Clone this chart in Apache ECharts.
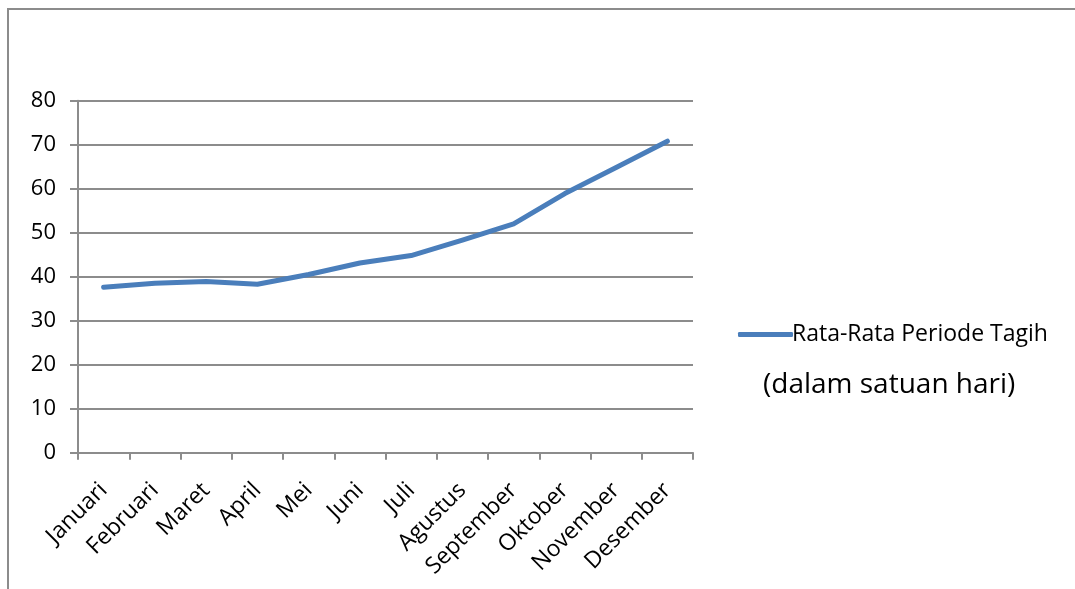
<!DOCTYPE html>
<html>
<head>
<meta charset="utf-8">
<script src="https://cdn.jsdelivr.net/npm/echarts@6/dist/echarts.min.js"></script>
<style>
  html, body { margin: 0; padding: 0; background: #fff; }
  #chart { width: 1075px; height: 589px; }
</style>
</head>
<body>
<div id="chart"></div>
<script>
// Bulan dalam setahun
const months = ['Januari', 'Februari', 'Maret', 'April', 'Mei', 'Juni', 'Juli',
  'Agustus', 'September', 'Oktober', 'November', 'Desember'];
// Rata-rata periode tagih per bulan (hari)
const avgCollection = [37.6, 38.5, 38.9, 38.3, 40.5, 43.1, 44.8, 48.3, 52.0, 58.9, 64.8, 70.8];
const seriesName = 'Rata-Rata Periode Tagih';
const unitNote = '(dalam satuan hari)';
const yMin = 0, yMax = 80, yStep = 10;

const FONT = 'Open Sans';
const GREY = '#8c8c8c';
const BLUE = '#4a7ebb';

const chart = echarts.init(document.getElementById('chart'), null, { renderer: 'canvas' });
chart.setOption({
  animation: false,
  textStyle: { fontFamily: FONT },
  grid: { left: 78, right: 382, top: 100.7, bottom: 136.3, containLabel: false },
  xAxis: {
    type: 'category',
    data: months,
    boundaryGap: true,
    axisLine: { lineStyle: { color: GREY, width: 2 } },
    axisTick: { show: true, length: 7, lineStyle: { color: GREY, width: 2 } },
    axisLabel: { rotate: 45, fontSize: 23, color: '#000', margin: 34, interval: 0, fontFamily: FONT }
  },
  yAxis: {
    type: 'value',
    min: yMin, max: yMax, interval: yStep,
    axisLine: { show: true, lineStyle: { color: GREY, width: 2 } },
    axisTick: { show: true, length: 8, lineStyle: { color: GREY, width: 2 } },
    splitLine: { show: true, lineStyle: { color: GREY, width: 2 } },
    axisLabel: { fontSize: 22, color: '#000', margin: 22, fontFamily: FONT }
  },
  legend: {
    left: 733, top: 318,
    orient: 'vertical',
    icon: 'roundRect',
    itemWidth: 55, itemHeight: 5,
    itemGap: 0,
    textStyle: { fontSize: 23, color: '#000', padding: [0, 0, 0, -6], fontFamily: FONT },
    data: [{ name: seriesName }]
  },
  graphic: [
    {
      type: 'rect', silent: true, z: -1,
      shape: { x: 8, y: 9, width: 1200, height: 700 },
      style: { fill: 'none', stroke: GREY, lineWidth: 2 }
    },
    {
      type: 'text', left: 763, top: 371,
      style: { text: unitNote, fontSize: 28, fill: '#000', fontFamily: FONT }
    }
  ],
  series: [{
    name: seriesName,
    type: 'line',
    data: avgCollection,
    symbol: 'none',
    lineStyle: { color: BLUE, width: 5, cap: 'round', join: 'round' },
    itemStyle: { color: BLUE }
  }]
});
</script>
</body>
</html>
